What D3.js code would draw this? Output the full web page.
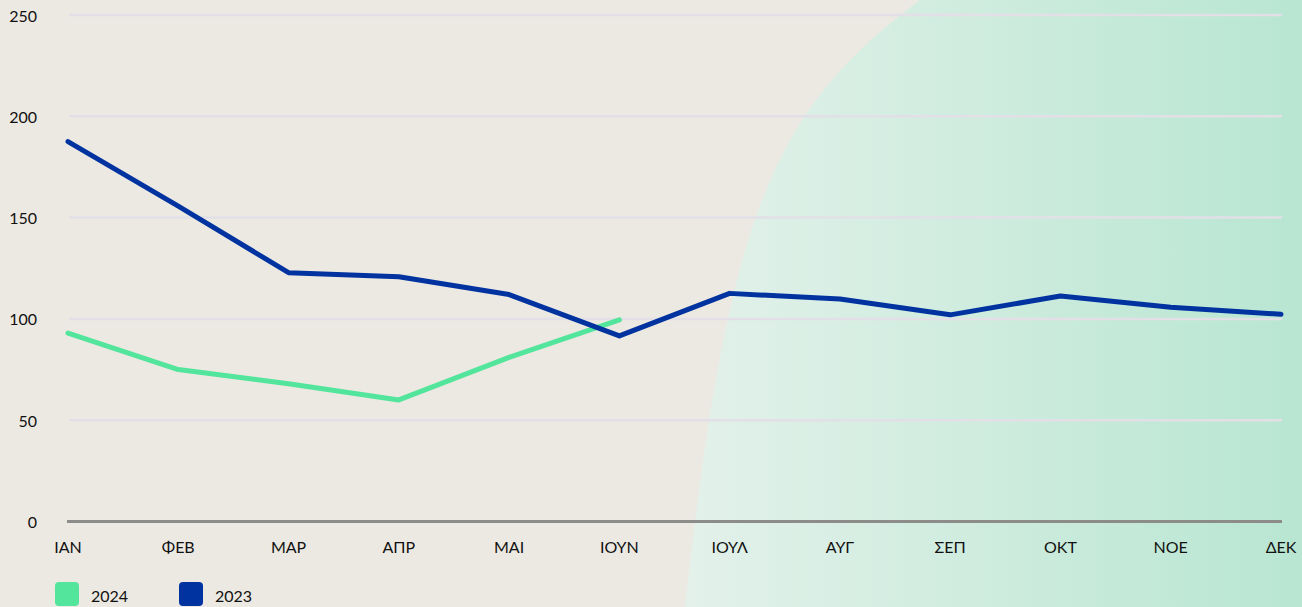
<!DOCTYPE html>
<html>
<head>
<meta charset="utf-8">
<script src="https://cdn.jsdelivr.net/npm/d3@7"></script>
<style>
html,body{margin:0;padding:0;background:#ECE9E2;}
svg{display:block;}
text{font-family:Lato,"Noto Sans",sans-serif;fill:#111;}
</style>
</head>
<body>
<svg id="chart" width="1302" height="607"></svg>
<script>
const months = ["ΙΑΝ","ΦΕΒ","ΜΑΡ","ΑΠΡ","ΜΑΙ","ΙΟΥΝ","ΙΟΥΛ","ΑΥΓ","ΣΕΠ","ΟΚΤ","ΝΟΕ","ΔΕΚ"];
const values2024 = [93, 75, 68, 60, 81, 99.5];
const values2023 = [187.5, 155.7, 122.8, 120.8, 112, 91.6, 112.6, 109.8, 102, 111.3, 105.7, 102.3];
const yTicks = [0, 50, 100, 150, 200, 250];
const seriesNames = ["2024", "2023"];
const seriesColors = ["#52E59B", "#0033A0"];

const W = 1302, H = 607;
const svg = d3.select("#chart");

// background
svg.append("rect").attr("width", W).attr("height", H).attr("fill", "#ECE9E2");
const defs = svg.append("defs");
const grad = defs.append("linearGradient").attr("id", "bgGrad")
  .attr("gradientUnits", "userSpaceOnUse")
  .attr("x1", 685).attr("y1", 0).attr("x2", W).attr("y2", 0);
grad.append("stop").attr("offset", "0%").attr("stop-color", "#E3F1EA");
grad.append("stop").attr("offset", "100%").attr("stop-color", "#B8E6D2");
svg.append("path")
  .attr("d", `M920,0 C773.7,110 729,207 685,607 L${W},607 L${W},0 Z`)
  .attr("fill", "url(#bgGrad)");

const x = d3.scalePoint().domain(months).range([68, 1281]).padding(0);
const y = d3.scaleLinear().domain([0, 250]).range([521.5, 15]);

// gridlines
svg.append("g")
  .selectAll("line").data(yTicks.filter(d => d > 0)).join("line")
  .attr("x1", 69).attr("x2", 1282)
  .attr("y1", d => y(d)).attr("y2", d => y(d))
  .attr("stroke", "#E2E0E6").attr("stroke-width", 2.5);

// y labels
svg.append("g")
  .selectAll("text").data(yTicks).join("text")
  .attr("x", 37).attr("y", d => y(d))
  .attr("text-anchor", "end").attr("dominant-baseline", "central")
  .style("font-size", "16px")
  .text(d => d);

// zero axis
svg.append("line")
  .attr("x1", 67).attr("x2", 1282)
  .attr("y1", y(0)).attr("y2", y(0))
  .attr("stroke", "#8C8C8A").attr("stroke-width", 3);

// x labels
svg.append("g")
  .selectAll("text").data(months).join("text")
  .attr("x", d => x(d)).attr("y", 546)
  .attr("text-anchor", "middle").attr("dominant-baseline", "central")
  .style("font-size", "16px")
  .text(d => d);

const line = d3.line().x((d, i) => x(months[i])).y(d => y(d));

svg.append("path").datum(values2024)
  .attr("d", line).attr("fill", "none")
  .attr("stroke", seriesColors[0]).attr("stroke-width", 5)
  .attr("stroke-linecap", "round").attr("stroke-linejoin", "round");

svg.append("path").datum(values2023)
  .attr("d", line).attr("fill", "none")
  .attr("stroke", seriesColors[1]).attr("stroke-width", 5)
  .attr("stroke-linecap", "round").attr("stroke-linejoin", "round");

// legend
const legX = [55, 179];
const lg = svg.append("g");
seriesNames.forEach((name, i) => {
  lg.append("rect").attr("x", legX[i]).attr("y", 582).attr("width", 24).attr("height", 24)
    .attr("rx", 4).attr("fill", seriesColors[i]);
  lg.append("text").attr("x", legX[i] + 36).attr("y", 595)
    .attr("dominant-baseline", "central").style("font-size", "16px").text(name);
});
</script>
</body>
</html>
